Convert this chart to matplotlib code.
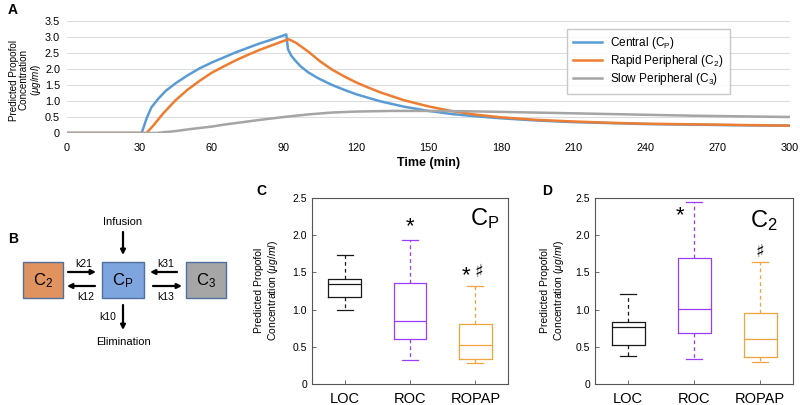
import matplotlib
matplotlib.use('Agg')
import matplotlib.pyplot as plt
from matplotlib.patches import Rectangle

plt.rcParams['font.family'] = ['Liberation Sans', 'DejaVu Sans']
plt.rcParams['mathtext.fontset'] = 'custom'
plt.rcParams['mathtext.rm'] = 'Liberation Sans'
plt.rcParams['mathtext.it'] = 'Liberation Sans:italic'

# ---- panel A data ----
t_central = [0, 31, 33, 35, 38, 41, 45, 50, 55, 60, 65, 70, 75, 80, 85, 91, 91.7, 93, 95, 97, 100,
             104, 110, 115, 120, 125, 130, 140, 150, 160, 170, 180, 195, 210, 225, 240, 260, 280, 300]
c_central = [0, 0, 0.45, 0.8, 1.08, 1.32, 1.55, 1.8, 2.02, 2.2, 2.36, 2.52, 2.66, 2.8, 2.92, 3.08, 2.62, 2.42, 2.24, 2.08, 1.9,
             1.72, 1.5, 1.35, 1.21, 1.1, 0.99, 0.82, 0.69, 0.59, 0.52, 0.46, 0.39, 0.34, 0.31, 0.28, 0.26, 0.24, 0.23]

t_rapid = [0, 33, 36, 40, 45, 50, 55, 60, 65, 70, 75, 80, 85, 90, 92, 95, 100, 105, 110, 115,
           120, 125, 130, 140, 150, 160, 170, 180, 195, 210, 225, 240, 260, 280, 300]
c_rapid = [0, 0, 0.25, 0.62, 1.02, 1.35, 1.63, 1.88, 2.08, 2.27, 2.44, 2.6, 2.74, 2.88, 2.93, 2.82, 2.55, 2.24, 1.98, 1.77,
           1.58, 1.42, 1.27, 1.02, 0.83, 0.68, 0.57, 0.49, 0.41, 0.36, 0.32, 0.29, 0.27, 0.25, 0.23]

t_slow = [0, 37, 45, 52, 60, 66, 73, 80, 90, 100, 110, 120, 135, 150, 165, 180, 200, 220, 240, 260, 280, 300]
c_slow = [0, 0, 0.06, 0.13, 0.2, 0.27, 0.34, 0.41, 0.5, 0.58, 0.64, 0.67, 0.69, 0.69, 0.68, 0.66, 0.63, 0.6, 0.57, 0.54, 0.52, 0.5]

# ---- panels C and D box statistics ----
groups = ['LOC', 'ROC', 'ROPAP']
cp_lo = [0.99, 0.32, 0.28]
cp_q1 = [1.17, 0.60, 0.34]
cp_med = [1.345, 0.85, 0.53]
cp_q3 = [1.41, 1.36, 0.80]
cp_hi = [1.73, 1.94, 1.32]

c2_lo = [0.37, 0.34, 0.29]
c2_q1 = [0.53, 0.69, 0.36]
c2_med = [0.76, 1.01, 0.61]
c2_q3 = [0.83, 1.69, 0.95]
c2_hi = [1.21, 2.45, 1.64]

box_colors = ['#1a1a1a', '#9b3dfa', '#f2a33a']
ylabel_box = 'Predicted Propofol\nConcentration ($\\mathit{\\mu g/ml}$)'

fig = plt.figure(figsize=(8, 4.05), dpi=100)

# ================= A =================
axA = fig.add_axes([67 / 800, 1 - 133 / 405, 723 / 800, 112 / 405])
axA.plot(t_central, c_central, color='#5b9bd5', lw=1.8, label='Central (C$_\\mathregular{P}$)')
axA.plot(t_rapid, c_rapid, color='#ed7d31', lw=1.8, label='Rapid Peripheral (C$_\\mathregular{2}$)')
axA.plot(t_slow, c_slow, color='#a5a5a5', lw=1.8, label='Slow Peripheral (C$_\\mathregular{3}$)')
axA.set_xlim(0, 300)
axA.set_ylim(0, 3.5)
axA.set_xticks(range(0, 301, 30))
axA.set_yticks([0, 0.5, 1, 1.5, 2, 2.5, 3, 3.5])
axA.set_yticklabels(['0', '0.5', '1.0', '1.5', '2.0', '2.5', '3.0', '3.5'])
axA.grid(axis='y', color='#dcdcdc', lw=0.8)
axA.set_axisbelow(True)
for s in axA.spines.values():
    s.set_visible(False)
axA.tick_params(length=0, labelsize=7.8)
axA.tick_params(axis='x', pad=7)
axA.tick_params(axis='y', pad=5)
axA.set_xlabel('Time (min)', fontsize=9, fontweight='bold', labelpad=3)
fig.text(26 / 800, 1 - 80 / 405, 'Predicted Propofol\nConcentration\n($\\mathit{\\mu g/ml}$)',
         rotation=90, ha='center', va='center', fontsize=7.1, linespacing=1.0)
axA.legend(loc='upper left', bbox_to_anchor=(567 / 800, 1 - 29 / 405), bbox_transform=fig.transFigure,
           fontsize=8.5, frameon=True, fancybox=False, edgecolor='#bbbbbb', handlelength=2.4,
           handletextpad=0.7, borderpad=0.55, labelspacing=0.15, borderaxespad=0)

fig.text(8 / 800, 1 - 3 / 405, 'A', fontsize=10, fontweight='bold', va='top', ha='left')

# ================= B (diagram) =================
axB = fig.add_axes([0, 0, 232 / 800, 205 / 405])
axB.set_xlim(0, 232)
axB.set_ylim(405, 200)
axB.axis('off')
edge = '#4f6f9c'
axB.add_patch(Rectangle((23, 262), 40, 36, facecolor='#e0925f', edgecolor=edge, lw=1))
axB.add_patch(Rectangle((102, 262), 42, 36, facecolor='#7ea5dd', edgecolor=edge, lw=1))
axB.add_patch(Rectangle((186, 262), 40, 36, facecolor='#a6a6a6', edgecolor=edge, lw=1))
axB.text(43, 281, 'C$_\\mathregular{2}$', fontsize=12, ha='center', va='center')
axB.text(123, 281, 'C$_\\mathregular{P}$', fontsize=12, ha='center', va='center')
axB.text(206, 281, 'C$_\\mathregular{3}$', fontsize=12, ha='center', va='center')

arrow = dict(arrowstyle='-|>', lw=1.6, color='k', mutation_scale=7, shrinkA=0, shrinkB=0)
axB.annotate('', xy=(96, 272), xytext=(68, 272), arrowprops=arrow)
axB.annotate('', xy=(67, 286), xytext=(95, 286), arrowprops=arrow)
axB.annotate('', xy=(150, 272), xytext=(177, 272), arrowprops=arrow)
axB.annotate('', xy=(182, 286), xytext=(153, 286), arrowprops=arrow)
axB.annotate('', xy=(123, 255), xytext=(123, 232), arrowprops=arrow)
axB.annotate('', xy=(123, 330), xytext=(123, 305), arrowprops=arrow)
axB.text(84, 264, 'k21', fontsize=7.5, ha='center', va='center')
axB.text(86, 297, 'k12', fontsize=7.5, ha='center', va='center')
axB.text(166, 264, 'k31', fontsize=7.5, ha='center', va='center')
axB.text(166, 297, 'k13', fontsize=7.5, ha='center', va='center')
axB.text(108, 317, 'k10', fontsize=7.5, ha='center', va='center')
axB.text(123, 222, 'Infusion', fontsize=8, ha='center', va='center')
axB.text(124, 342, 'Elimination', fontsize=8, ha='center', va='center')
fig.text(8 / 800, 1 - 232 / 405, 'B', fontsize=10, fontweight='bold', va='top', ha='left')


# ================= C and D =================
def box_panel(ax, lo, q1, med, q3, hi):
    for i in range(3):
        st = [dict(whislo=lo[i], q1=q1[i], med=med[i], q3=q3[i], whishi=hi[i], fliers=[])]
        c = box_colors[i]
        ax.bxp(st, positions=[i + 1], widths=0.5, showfliers=False,
               boxprops=dict(color=c, lw=0.9),
               medianprops=dict(color=c, lw=0.9),
               whiskerprops=dict(color=c, lw=0.9, ls=(0, (3, 2.5))),
               capprops=dict(color=c, lw=0.9), capwidths=0.24)
    ax.set_xlim(0.5, 3.5)
    ax.set_ylim(0, 2.5)
    ax.set_xticks([1, 2, 3])
    ax.set_xticklabels(groups, fontsize=10.5)
    ax.set_yticks([0, 0.5, 1, 1.5, 2, 2.5])
    ax.set_yticklabels(['0', '0.5', '1.0', '1.5', '2.0', '2.5'], fontsize=7.5)
    ax.tick_params(direction='in', length=3, width=0.6, color='#555555')
    ax.tick_params(axis='x', pad=6)
    for s in ax.spines.values():
        s.set_color('#555555')
        s.set_linewidth(0.8)


axC = fig.add_axes([312 / 800, 1 - 384 / 405, 196 / 800, 186 / 405])
box_panel(axC, cp_lo, cp_q1, cp_med, cp_q3, cp_hi)
axC.text(2, 2.12, '*', fontsize=16, ha='center', va='center')
axC.text(2.86, 1.46, '*', fontsize=16, ha='center', va='center')
axC.text(3.06, 1.5, '♯', fontsize=13, ha='center', va='center', family='DejaVu Sans')
axC.text(3.37, 2.23, 'C$_\\mathregular{P}$', fontsize=17, ha='right', va='center')
fig.text(267 / 800, 1 - 290 / 405, ylabel_box, rotation=90, ha='center', va='center', fontsize=7.5,
         linespacing=1.1)
fig.text(256 / 800, 1 - 184 / 405, 'C', fontsize=10, fontweight='bold', va='top', ha='left')

axD = fig.add_axes([595 / 800, 1 - 384 / 405, 198 / 800, 186 / 405])
box_panel(axD, c2_lo, c2_q1, c2_med, c2_q3, c2_hi)
axD.text(1.79, 2.26, '*', fontsize=16, ha='center', va='center')
axD.text(3.0, 1.78, '♯', fontsize=13, ha='center', va='center', family='DejaVu Sans')
axD.text(3.27, 2.2, 'C$_\\mathregular{2}$', fontsize=17, ha='right', va='center')
fig.text(553 / 800, 1 - 290 / 405, ylabel_box, rotation=90, ha='center', va='center', fontsize=7.5,
         linespacing=1.1)
fig.text(542 / 800, 1 - 184 / 405, 'D', fontsize=10, fontweight='bold', va='top', ha='left')

fig.savefig('out.png', dpi=100)
